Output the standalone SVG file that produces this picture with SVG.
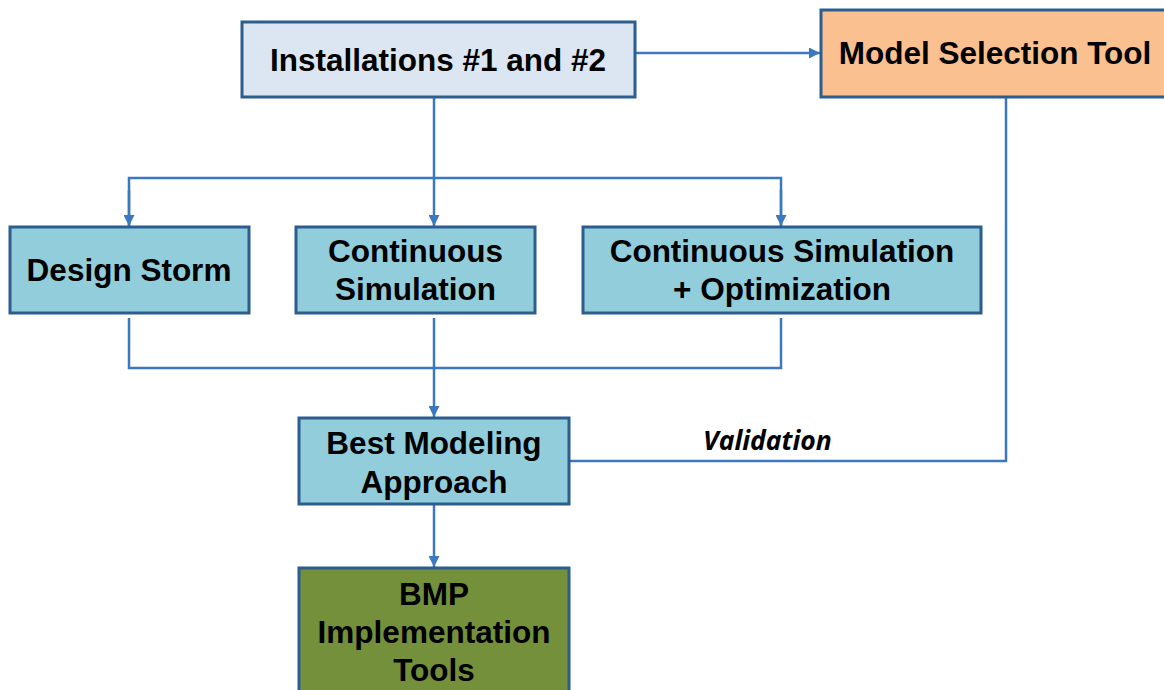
<svg xmlns="http://www.w3.org/2000/svg" width="1164" height="690" viewBox="0 0 1164 690">
  <defs>
    <marker id="arrow" viewBox="0 0 10 10" refX="10" refY="5" markerWidth="11" markerHeight="11" markerUnits="userSpaceOnUse" orient="auto">
      <path d="M0,0 L10,5 L0,10 Z" fill="#3b78bf"/>
    </marker>
  </defs>
  <style>
    .box { stroke: #2c5d8f; stroke-width: 3; }
    .light { fill: #dce6f2; }
    .teal { fill: #92cddc; }
    .orange { fill: #fac090; }
    .green { fill: #74903a; }
    .label { font-family: "Liberation Sans", Arial, sans-serif; font-weight: bold; font-size: 31.5px; fill: #000; text-anchor: middle; }
    .note { font-family: "Open Sans", "Liberation Sans", sans-serif; font-weight: bold; font-style: italic; font-size: 26.5px; fill: #000; }
    .conn { fill: none; stroke: #3b78bf; stroke-width: 2.5; }
  </style>
  <rect width="1164" height="690" fill="#ffffff"/>

  <g id="connectors">
    <line class="conn" x1="635" y1="53" x2="820" y2="53" marker-end="url(#arrow)"/>
    <line class="conn" x1="434" y1="97" x2="434" y2="226" marker-end="url(#arrow)"/>
    <polyline class="conn" points="129,226 129,178 781,178 781,226"/>
    <line class="conn" x1="129" y1="190" x2="129" y2="226" marker-end="url(#arrow)"/>
    <line class="conn" x1="781" y1="190" x2="781" y2="226" marker-end="url(#arrow)"/>
    <polyline class="conn" points="129,318 129,368 781,368 781,318"/>
    <line class="conn" x1="434" y1="318" x2="434" y2="417" marker-end="url(#arrow)"/>
    <polyline class="conn" points="1006,97 1006,461 569,461"/>
    <line class="conn" x1="434" y1="504" x2="434" y2="567" marker-end="url(#arrow)"/>
  </g>

  <g id="installations">
    <rect class="box light" x="242" y="22" width="393" height="75"/>
    <text class="label" x="438" y="71">Installations #1 and #2</text>
  </g>

  <g id="model-selection-tool">
    <rect class="box orange" x="821" y="10" width="360" height="87"/>
    <text class="label" x="995" y="64">Model Selection Tool</text>
  </g>

  <g id="design-storm">
    <rect class="box teal" x="10" y="227" width="239" height="86"/>
    <text class="label" x="129" y="281">Design Storm</text>
  </g>

  <g id="continuous-simulation">
    <rect class="box teal" x="296" y="227" width="239" height="86"/>
    <text class="label" x="415.5" y="262">Continuous</text>
    <text class="label" x="415.5" y="300">Simulation</text>
  </g>

  <g id="continuous-simulation-optimization">
    <rect class="box teal" x="583" y="227" width="398" height="86"/>
    <text class="label" x="782" y="262">Continuous Simulation</text>
    <text class="label" x="782" y="300">+ Optimization</text>
  </g>

  <g id="best-modeling-approach">
    <rect class="box teal" x="299" y="418" width="270" height="86"/>
    <text class="label" x="434" y="454">Best Modeling</text>
    <text class="label" x="434" y="493">Approach</text>
  </g>

  <g id="validation-label">
    <text class="note" x="703" y="450">Validation</text>
  </g>

  <g id="bmp-implementation-tools">
    <rect class="box green" x="299" y="568" width="270" height="140"/>
    <text class="label" x="434" y="605">BMP</text>
    <text class="label" x="434" y="643">Implementation</text>
    <text class="label" x="434" y="681">Tools</text>
  </g>
</svg>
